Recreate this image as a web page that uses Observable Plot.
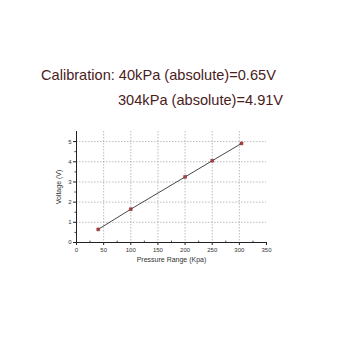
<!DOCTYPE html>
<html><head><meta charset="utf-8">
<script src="https://cdn.jsdelivr.net/npm/d3@7"></script>
<script src="https://cdn.jsdelivr.net/npm/@observablehq/plot@0.6"></script>
<style>
body{margin:0;background:#fff;font-family:"Liberation Sans",Arial,sans-serif;}
#wrap{position:relative;width:340px;height:340px;overflow:hidden;}
.t{position:absolute;color:#4a1c1c;font-size:14.6px;white-space:nowrap;}
#chart{position:absolute;left:0;top:0;}
</style></head>
<body>
<div id="wrap">
<div id="chart"></div>
<div class="t" style="left:41px;top:67px;">Calibration: 40kPa (absolute)=0.65V</div>
<div class="t" style="left:118px;top:92px;">304kPa (absolute)=4.91V</div>
</div>
<script>
const pressure = [40, 100, 200, 250, 304];
const voltage = [0.65, 1.65, 3.25, 4.05, 4.91];
const xTicks = [0, 50, 100, 150, 200, 250, 300, 350];
const yTicks = [0, 1, 2, 3, 4, 5];
const xMinor = [25, 75, 125, 175, 225, 275, 325];
const yMinor = [0.5, 1.5, 2.5, 3.5, 4.5];
const data = pressure.map((p, i) => ({p, v: voltage[i]}));

const chart = Plot.plot({
  width: 340, height: 340,
  marginLeft: 76, marginRight: 74, marginTop: 131, marginBottom: 98,
  style: {fontFamily: "Liberation Sans, Arial, sans-serif", fontSize: "6px", color: "#333", background: "transparent"},
  x: {domain: [0, 350], label: null},
  y: {domain: [0, 5.5], label: null},
  marks: [
    Plot.gridX(xTicks.filter(d => d > 0 && d < 350), {stroke: "#888", strokeOpacity: 0.8, strokeDasharray: "1.5,1.5", strokeWidth: 0.7}),
    Plot.gridY(yTicks.filter(d => d > 0), {stroke: "#888", strokeOpacity: 0.8, strokeDasharray: "1.5,1.5", strokeWidth: 0.7}),
    Plot.axisX({ticks: xTicks, tickSize: 3, tickPadding: 2, tickFormat: "d", label: null, fontSize: 6, stroke: "#222"}),
    Plot.axisY({ticks: yTicks, tickSize: 3, tickPadding: 2, tickFormat: "d", label: null, fontSize: 6, stroke: "#222"}),
    Plot.ruleX(xMinor, {x: d => d, y1: 0, y2: 0.07, stroke: "#222", strokeWidth: 0.8}),
    Plot.ruleY(yMinor, {y: d => d, x1: 0, x2: -3, stroke: "#222", strokeWidth: 0.8, clip: false}),
    Plot.ruleX([0], {stroke: "#222", strokeWidth: 1}),
    Plot.ruleY([0], {stroke: "#222", strokeWidth: 1}),
    Plot.line(data, {x: "p", y: "v", stroke: "#333", strokeWidth: 0.9}),
    Plot.dot(data, {x: "p", y: "v", symbol: "square", r: 1.6, fill: "#b04040", stroke: "#7a2020", strokeWidth: 0.5}),
    Plot.axisX({ticks: [], label: "Pressure Range (Kpa)", labelAnchor: "center", labelArrow: "none", labelOffset: 19, fontSize: 7, tickSize: 0}),
    Plot.axisY({ticks: [], label: "Voltage (V)", labelAnchor: "center", labelArrow: "none", labelOffset: 20, fontSize: 7, tickSize: 0})
  ]
});
document.getElementById("chart").appendChild(chart);
</script>
</body></html>
